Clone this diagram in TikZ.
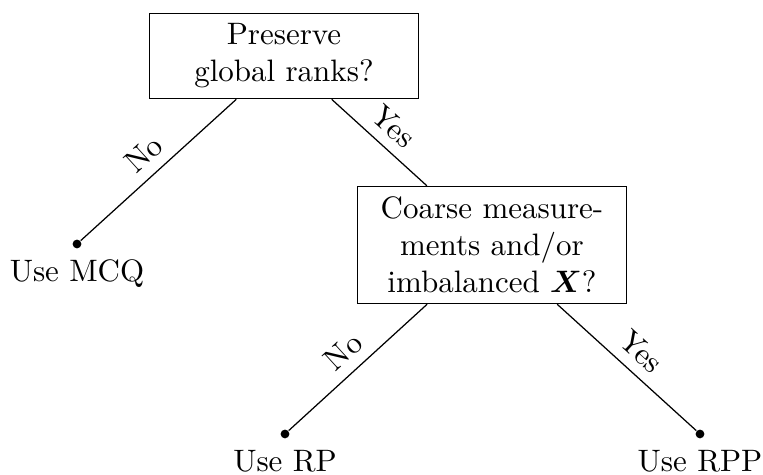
\documentclass[tikz,border=0pt]{standalone}
\usepackage{bm}
\begin{document}
\begin{tikzpicture}[x=0.3226pt,y=-0.3226pt,
  decision/.style={draw, text width=80pt, align=center, inner sep=3.33pt},
  leaf/.style={circle, fill, inner sep=1pt},
  edgelab/.style={midway, above, sloped}]
\useasboundingbox (0,0) rectangle (763,475);
\node[decision] (root) at (284,56) {Preserve\\global ranks?};
\node[decision] (coarse) at (492,245) {Coarse measure-\\ments and/or\\imbalanced $\bm{X}$?};
\node[leaf, label=below:Use MCQ] (mcq) at (77,244) {};
\node[leaf, label=below:Use RP] (rp) at (285,434) {};
\node[leaf, label=below:Use RPP] (rpp) at (700,434) {};
\draw (root) -- node[edgelab] {No} (mcq);
\draw (root) -- node[edgelab] {Yes} (coarse);
\draw (coarse) -- node[edgelab] {No} (rp);
\draw (coarse) -- node[edgelab] {Yes} (rpp);
\end{tikzpicture}
\end{document}
